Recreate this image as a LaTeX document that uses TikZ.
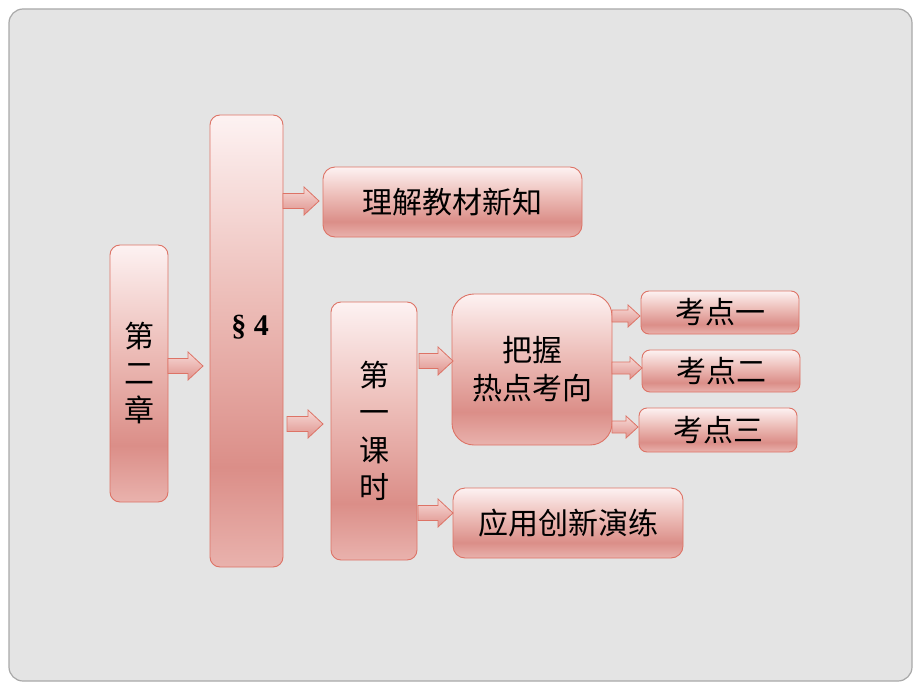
\documentclass[tikz,border=0pt]{standalone}
\usepackage{fontspec}
\newfontfamily\cjk{Noto Sans CJK SC}
\newfontfamily\tms{Liberation Serif}
\usetikzlibrary{calc}
\definecolor{bT}{HTML}{FDF2F2}
\definecolor{bM}{HTML}{EDBEB9}
\definecolor{bD}{HTML}{DB8E88}
\definecolor{bB}{HTML}{E9B2AD}
\definecolor{edge}{HTML}{DD7366}
\definecolor{panel}{HTML}{E4E4E4}
\definecolor{panelline}{HTML}{A9A9A9}
\definecolor{aT}{HTML}{F7DAD7}
\definecolor{aB}{HTML}{DF928C}
\pgfdeclareverticalshading{boxgrad}{100bp}{color(0bp)=(bB); color(25bp)=(bB); color(36bp)=(bD); color(55bp)=(bM); color(75bp)=(bT); color(100bp)=(bT)}
\begin{document}
\begin{tikzpicture}[x=1pt,y=-1pt,
  box/.style={draw=edge, line width=0.9pt, shade, shading=boxgrad, inner sep=0pt,
    font=\cjk\fontsize{30}{37}\selectfont, align=center},
  barrow/.style={draw=edge, line width=0.8pt, top color=aT, bottom color=aB,
    to path={let \p1=(\tikztostart), \p2=(\tikztotarget) in
      (\x1,{\y1+7.5pt}) -- ({\x2-15pt},{\y1+7.5pt}) -- ({\x2-15pt},{\y1+14pt}) -- (\x2,\y1)
      -- ({\x2-15pt},{\y1-14pt}) -- ({\x2-15pt},{\y1-7.5pt}) -- (\x1,{\y1-7.5pt}) -- cycle}},
  sarrow/.style={draw=edge, line width=0.8pt, top color=aT, bottom color=aB,
    to path={let \p1=(\tikztostart), \p2=(\tikztotarget) in
      (\x1,{\y1+6pt}) -- ({\x2-12pt},{\y1+6pt}) -- ({\x2-12pt},{\y1+11pt}) -- (\x2,\y1)
      -- ({\x2-12pt},{\y1-11pt}) -- ({\x2-12pt},{\y1-6pt}) -- (\x1,{\y1-6pt}) -- cycle}}
]
\useasboundingbox[fill=white] (0,0) rectangle (920,690);
\draw[draw=panelline, fill=panel, rounded corners=14pt, line width=1.2pt] (9,9) rectangle (912,681);

\node[box, rounded corners=10pt, minimum width=58pt, minimum height=257pt] (ch) at (139,373.5) {第\\二\\章};
\node[box, rounded corners=10pt, minimum width=73pt, minimum height=452pt] (s4) at (246.5,341) {};
\node[font=\tms\bfseries\fontsize{30}{36}\selectfont, inner sep=0pt] (s4t) at (250,327) {§ 4};
\node[box, rounded corners=12pt, minimum width=259pt, minimum height=70pt] (t1) at (452.5,202) {理解教材新知};
\node[box, rounded corners=10pt, minimum width=86pt, minimum height=258pt, font=\cjk\fontsize{30}{37.5}\selectfont] (k1) at (374,431) {第\\一\\课\\时};
\node[box, rounded corners=22pt, minimum width=160pt, minimum height=151pt, font=\cjk\fontsize{30}{38}\selectfont] (bw) at (532,369.5) {把握\\热点考向};
\node[box, rounded corners=8pt, minimum width=158pt, minimum height=43pt] (p1) at (720,312.5) {考点一};
\node[box, rounded corners=8pt, minimum width=158pt, minimum height=42pt] (p2) at (721,371) {考点二};
\node[box, rounded corners=8pt, minimum width=158pt, minimum height=44pt] (p3) at (718,430) {考点三};
\node[box, rounded corners=12pt, minimum width=230pt, minimum height=70pt] (yy) at (568,523) {应用创新演练};

\coordinate (a1s) at (168,366);   \coordinate (a1e) at (203,366);
\coordinate (a2s) at (283,201);   \coordinate (a2e) at (319,201);
\coordinate (a3s) at (287,424);   \coordinate (a3e) at (323,424);
\coordinate (a4s) at (419,361);   \coordinate (a4e) at (453,361);
\coordinate (a5s) at (612,316);   \coordinate (a5e) at (640,316);
\coordinate (a6s) at (612,368);   \coordinate (a6e) at (642,368);
\coordinate (a7s) at (612,427);   \coordinate (a7e) at (638,427);
\coordinate (a8s) at (418,513);   \coordinate (a8e) at (453,513);

\draw[barrow] (a1s) to (a1e);
\draw[barrow] (a2s) to (a2e);
\draw[barrow] (a3s) to (a3e);
\draw[barrow] (a4s) to (a4e);
\draw[sarrow] (a5s) to (a5e);
\draw[sarrow] (a6s) to (a6e);
\draw[sarrow] (a7s) to (a7e);
\draw[barrow] (a8s) to (a8e);
\end{tikzpicture}
\end{document}
